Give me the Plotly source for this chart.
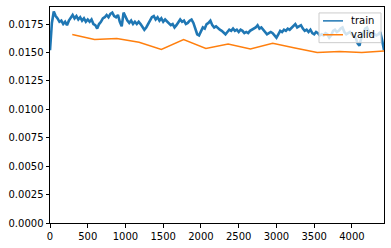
import plotly.graph_objects as go

# ---- data ----
train_step = 25  # spacing of the recorded train points (steps)
train_loss = [
    0.0152, 0.0176, 0.0186, 0.0182, 0.0180, 0.0177, 0.0178, 0.0175, 0.0177, 0.0174,
    0.0178, 0.0181, 0.0183, 0.0180, 0.0182, 0.0179, 0.0181, 0.0178, 0.0180, 0.0177,
    0.0179, 0.0177, 0.0179, 0.0175, 0.0174, 0.0171, 0.0175, 0.0177, 0.0180, 0.0181,
    0.0183, 0.0181, 0.0184, 0.0185, 0.0182, 0.0181, 0.0183, 0.0177, 0.0173, 0.0185,
    0.0181, 0.0178, 0.0176, 0.0178, 0.0175, 0.0177, 0.0175, 0.0177, 0.0175, 0.0173,
    0.0170, 0.0172, 0.0175, 0.0178, 0.0181, 0.0182, 0.0179, 0.0181, 0.0178, 0.0180,
    0.0177, 0.0179, 0.0177, 0.0176, 0.0174, 0.0175, 0.0172, 0.0174, 0.0177, 0.0179,
    0.0177, 0.0178, 0.0175, 0.0176, 0.0178, 0.0179, 0.0176, 0.0170, 0.0166, 0.0165,
    0.0169, 0.0172, 0.0171, 0.0175, 0.0176, 0.0178, 0.0174, 0.0172, 0.0173, 0.0171,
    0.0170, 0.0169, 0.0167, 0.0166, 0.0168, 0.0170, 0.0169, 0.0171, 0.0169, 0.0170,
    0.0168, 0.0170, 0.0169, 0.0167, 0.0168, 0.0167, 0.0169, 0.0170, 0.0171, 0.0172,
    0.0174, 0.0171, 0.0172, 0.0170, 0.0169, 0.0166, 0.0167, 0.0168, 0.0167, 0.0165,
    0.0163, 0.0166, 0.0169, 0.0168, 0.0170, 0.0169, 0.0171, 0.0170, 0.0172, 0.0174,
    0.0175, 0.0172, 0.0173, 0.0174, 0.0171, 0.0169, 0.0170, 0.0168, 0.0170, 0.0167,
    0.0166, 0.0168, 0.0167, 0.0165, 0.0166, 0.0165, 0.0167, 0.0166, 0.0163, 0.0165,
    0.0169, 0.0170, 0.0168, 0.0169, 0.0171, 0.0172, 0.0168, 0.0166, 0.0167, 0.0168,
    0.0166, 0.0164, 0.0163, 0.0158, 0.0156, 0.0163, 0.0167, 0.0171, 0.0172, 0.0168,
    0.0167, 0.0165, 0.0166, 0.0165, 0.0166, 0.0168, 0.0161, 0.0152,
]
train_x = [i * train_step for i in range(len(train_loss))]

valid_x = [295, 590, 885, 1180, 1475, 1770, 2065, 2360, 2655, 2950,
           3245, 3540, 3835, 4130, 4425]
valid_loss = [0.01658, 0.01615, 0.01623, 0.01590, 0.01527, 0.01614, 0.01536,
              0.01574, 0.01530, 0.01580, 0.01540, 0.01500, 0.01509, 0.01500,
              0.01513]

series_names = ["train", "valid"]

x_ticks = [0, 500, 1000, 1500, 2000, 2500, 3000, 3500, 4000]
y_ticks = [0.0, 0.0025, 0.005, 0.0075, 0.01, 0.0125, 0.015, 0.0175]
y_tick_labels = ["0.0000", "0.0025", "0.0050", "0.0075", "0.0100",
                 "0.0125", "0.0150", "0.0175"]

BLUE = "#1f77b4"
ORANGE = "#ff7f0e"
colors = [BLUE, ORANGE]

fig = go.Figure()
fig.add_trace(go.Scatter(x=train_x, y=train_loss, mode="lines", name="train",
                         showlegend=False, line=dict(color=BLUE, width=2.6)))
fig.add_trace(go.Scatter(x=valid_x, y=valid_loss, mode="lines", name="valid",
                         showlegend=False, line=dict(color=ORANGE, width=1.5)))

axis_common = dict(showgrid=False, zeroline=False, showline=True, mirror=True,
                   linecolor="black", linewidth=1, ticks="outside", ticklen=3.5,
                   tickwidth=0.8, tickcolor="black",
                   tickfont=dict(family="DejaVu Sans", size=10, color="black"))

# ---- matplotlib-style legend box (upper right), in paper coordinates ----
W, H = 334.0, 218.0          # plot area size in px
def px(x):                   # px offset from plot-area left -> paper x
    return x / W
def py(y):                   # px offset from plot-area top -> paper y
    return 1 - y / H

shapes = [dict(type="rect", xref="paper", yref="paper",
               x0=px(269), x1=px(331), y0=py(36), y1=py(6),
               fillcolor="rgba(255,255,255,0.8)",
               line=dict(color="#cccccc", width=1), layer="above")]
annotations = []
for k, (name, col) in enumerate(zip(series_names, colors)):
    yy = py(14 + 14 * k)
    shapes.append(dict(type="line", xref="paper", yref="paper",
                       x0=px(273), x1=px(293), y0=yy, y1=yy,
                       line=dict(color=col, width=1.5), layer="above"))
    annotations.append(dict(xref="paper", yref="paper", x=px(299), y=yy,
                            xanchor="left", yanchor="middle", text=name,
                            showarrow=False,
                            font=dict(family="DejaVu Sans", size=10,
                                      color="black")))

fig.update_layout(
    width=391, height=248,
    margin=dict(l=50, r=7, t=6, b=24),
    paper_bgcolor="white", plot_bgcolor="white",
    xaxis=dict(range=[0, 4425], tickvals=x_ticks, **axis_common),
    yaxis=dict(range=[0, 0.019], tickvals=y_ticks, ticktext=y_tick_labels,
               **axis_common),
    showlegend=False,
    shapes=shapes,
    annotations=annotations,
)

fig.write_html("out.html", config={"displayModeBar": False})
